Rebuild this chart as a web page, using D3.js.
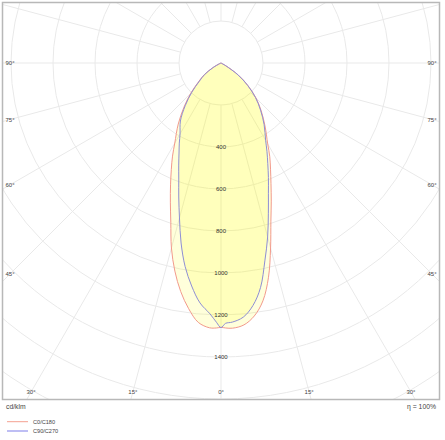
<!DOCTYPE html>
<html>
<head>
<meta charset="utf-8">
<script src="https://cdn.jsdelivr.net/npm/d3@7"></script>
<style>
  html, body { margin: 0; padding: 0; background: #fff; }
  svg { display: block; font-family: "Liberation Sans", Arial, sans-serif; }
</style>
</head>
<body>
<svg id="chart" width="445" height="440"></svg>
<script>
// Gamma angles (degrees from nadir) at which intensities are read
const gammas = [0, 1, 2.5, 5, 7.5, 10, 12.5, 15, 17.5, 20, 22.5, 25, 27.5, 30, 35, 40, 45, 50, 55, 60, 65, 70];
// Luminous intensity (cd/klm) per half plane
const c0   = [1259, 1262, 1264, 1252, 1215, 1150, 1045, 912, 790, 700, 622, 558, 503, 445, 365, 298, 236, 168, 102, 28, 0, 0];
const c180 = [1259, 1262, 1262, 1240, 1180, 1105, 1015, 912, 795, 705, 628, 560, 500, 440, 355, 274, 204, 140, 98, 46, 8, 0];
const c90  = [1260, 1240, 1235, 1215, 1165, 1085, 965, 858, 750, 660, 590, 527, 474, 425, 358, 293, 232, 165, 100, 26, 0, 0];
const c270 = [1260, 1235, 1196, 1147, 1071, 984, 878, 764, 669, 588, 526, 473, 430, 390, 337, 265, 196, 134, 94, 43, 7, 0];
// Grid
const ringValues = [200, 400, 600, 800, 1000, 1200, 1400, 1600, 1800, 2000, 2200];
const ringLabels = [400, 600, 800, 1000, 1200, 1400];
const angleLabels = [0, 15, 30, 45, 60, 75, 90];
const legendNames = ["C0/C180", "C90/C270"];
const unitLabel = "cd/klm";
const effLabel = "η = 100%";

const svg = d3.select("#chart");
const frame = {x0: 2.5, y0: 2.5, x1: 439.5, y1: 399.5};
const cx = 221, cy = 63;
const r = d3.scaleLinear().domain([0, 200]).range([0, 42]);
const toRad = d => d * Math.PI / 180;

svg.append("defs").append("clipPath").attr("id", "clip")
  .append("rect").attr("x", frame.x0).attr("y", frame.y0)
  .attr("width", frame.x1 - frame.x0).attr("height", frame.y1 - frame.y0);

const plot = svg.append("g").attr("clip-path", "url(#clip)");
const g = plot.append("g").attr("transform", `translate(${cx},${cy})`);

// rings
g.selectAll("circle.ring").data(ringValues).join("circle")
  .attr("r", d => r(d)).attr("fill", "none")
  .attr("stroke", "#e9e9e9").attr("stroke-width", 1);

// radial lines every 15 degrees
const spokes = d3.range(0, 360, 15);
g.selectAll("line.spoke").data(spokes).join("line")
  .attr("x1", d => r(200) * Math.sin(toRad(d)))
  .attr("y1", d => r(200) * Math.cos(toRad(d)))
  .attr("x2", d => r(2400) * Math.sin(toRad(d)))
  .attr("y2", d => r(2400) * Math.cos(toRad(d)))
  .attr("stroke", "#e9e9e9").attr("stroke-width", 1);

// curves
function planePoints(left, right) {
  const pts = [];
  for (let i = gammas.length - 1; i >= 1; i--) pts.push([Math.PI + toRad(gammas[i]), r(left[i])]);
  for (let i = 0; i < gammas.length; i++) pts.push([Math.PI - toRad(gammas[i]), r(right[i])]);
  return pts;
}
const radial = d3.lineRadial().angle(d => d[0]).radius(d => d[1]).curve(d3.curveCatmullRom.alpha(0.5));
const planes = [
  {pts: planePoints(c180, c0), stroke: "#f29a8c"},
  {pts: planePoints(c270, c90), stroke: "#8e8ed4"}
];
g.selectAll("path.fill").data(planes).join("path")
  .attr("d", d => radial(d.pts) + "Z")
  .attr("fill", "rgba(255,255,0,0.14)").attr("stroke", "none");
g.selectAll("path.line").data(planes).join("path")
  .attr("d", d => radial(d.pts))
  .attr("fill", "none").attr("stroke", d => d.stroke).attr("stroke-width", 1);

// ring labels
g.selectAll("text.rl").data(ringLabels).join("text")
  .attr("x", 0).attr("y", d => r(d)).attr("dy", "0.35em")
  .attr("text-anchor", "middle").attr("font-size", 6).attr("fill", "#333")
  .text(d => d);

// frame
svg.append("rect").attr("x", frame.x0).attr("y", frame.y0)
  .attr("width", frame.x1 - frame.x0).attr("height", frame.y1 - frame.y0)
  .attr("fill", "none").attr("stroke", "#b8b8b8").attr("stroke-width", 1.5);

// angle labels along inner rectangle
const inner = {left: 10, right: 432, bottom: 392};
const labelPos = [];
angleLabels.forEach(a => {
  [-1, 1].forEach(side => {
    if (a === 0 && side === 1) return;
    const s = Math.sin(toRad(a)), c = Math.cos(toRad(a));
    const tx = s > 1e-6 ? (side < 0 ? cx - inner.left : inner.right - cx) / s : Infinity;
    const ty = c > 1e-6 ? (inner.bottom - cy) / c : Infinity;
    const t = Math.min(tx, ty);
    labelPos.push({a, x: cx + side * s * t, y: cy + c * t});
  });
});
svg.selectAll("text.al").data(labelPos).join("text")
  .attr("x", d => d.x).attr("y", d => d.y).attr("dy", "0.35em")
  .attr("text-anchor", "middle").attr("font-size", 6).attr("fill", "#444")
  .text(d => d.a + "°");

// bottom texts
svg.append("text").attr("x", 6).attr("y", 409).attr("font-size", 6.8).attr("fill", "#444").text(unitLabel);
svg.append("text").attr("x", 436).attr("y", 409).attr("text-anchor", "end").attr("font-size", 6.8).attr("fill", "#444").text(effLabel);

// legend
const legendColors = ["#f4a090", "#a8a8f0"];
const lg = svg.selectAll("g.lg").data(legendNames).join("g")
  .attr("transform", (d, i) => `translate(7,${421.7 + i * 9.3})`);
lg.append("line").attr("x1", 0).attr("x2", 21).attr("y1", 0).attr("y2", 0)
  .attr("stroke", (d, i) => legendColors[i]).attr("stroke-width", (d, i) => i ? 1.5 : 1);
lg.append("text").attr("x", 26).attr("y", 0).attr("dy", "0.35em")
  .attr("font-size", 5.6).attr("fill", "#444").text(d => d);
</script>
</body>
</html>
